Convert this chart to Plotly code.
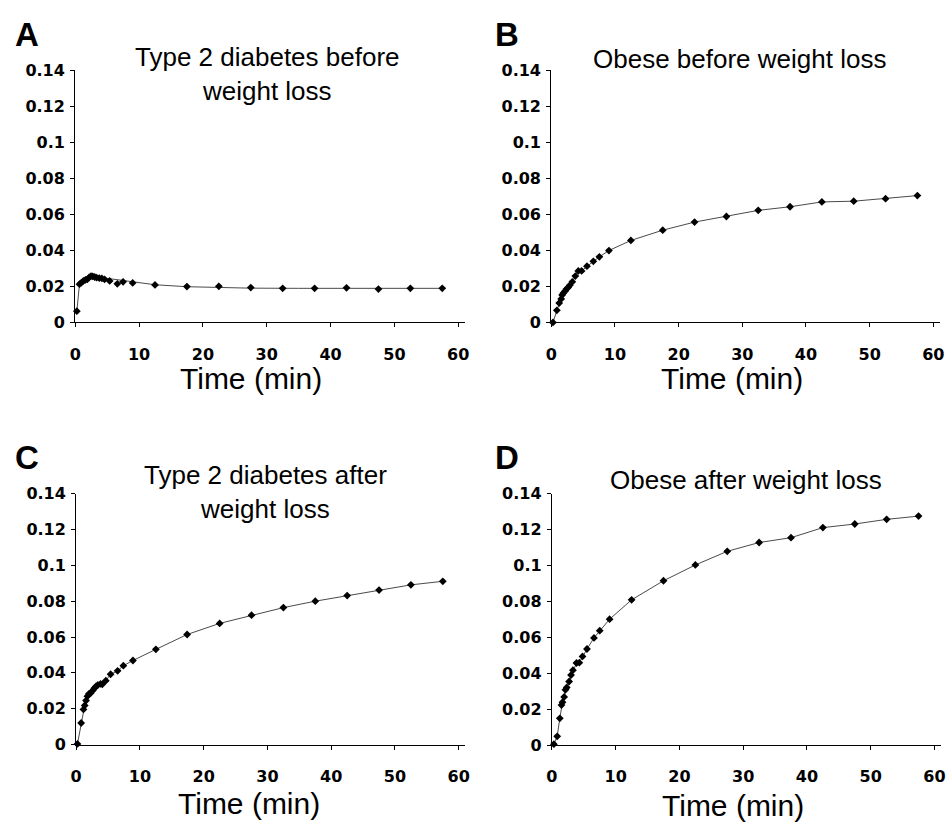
import plotly.graph_objects as go

W, H = 950, 832

# ---------------- data ----------------
A_time = [0.26, 0.67, 0.98, 1.29, 1.6, 1.9, 2.2, 2.48, 2.74, 3.05, 3.36, 3.77, 4.18, 4.6, 5.4,
          6.6, 7.5, 9.0, 12.5, 17.5, 22.5, 27.5, 32.5, 37.5, 42.5, 47.5, 52.5, 57.5]
A_val = [0.0062, 0.0212, 0.0221, 0.0230, 0.0236, 0.0239, 0.0250, 0.0257, 0.0255, 0.0252, 0.0248,
         0.0246, 0.0244, 0.0239, 0.0230, 0.0214, 0.0225, 0.0219, 0.0208, 0.0199, 0.0200, 0.0193,
         0.0189, 0.0189, 0.0192, 0.0185, 0.0189, 0.0189]
A_fit_time = [0.26, 0.67, 1.3, 2.0, 2.5, 3.0, 4.0, 5.0, 6.6, 9.0, 12.5, 17.5, 22.5, 27.5, 35, 45, 57.5]
A_fit_val = [0.0062, 0.0212, 0.0232, 0.0246, 0.0255, 0.0254, 0.0249, 0.0243, 0.0236, 0.0225,
             0.0209, 0.0198, 0.0192, 0.0190, 0.0189, 0.0189, 0.0189]

B_time = [0.26, 0.87, 1.24, 1.55, 1.7, 1.9, 2.17, 2.38, 2.64, 2.9, 3.3, 3.77, 4.24, 4.76, 5.6,
          6.6, 7.55, 9.05, 12.5, 17.5, 22.5, 27.5, 32.5, 37.5, 42.5, 47.5, 52.5, 57.5]
B_val = [0.0, 0.0067, 0.0107, 0.0130, 0.0152, 0.0163, 0.0174, 0.0185, 0.0194, 0.0206, 0.0225,
         0.0257, 0.0286, 0.0286, 0.0312, 0.0339, 0.0364, 0.0399, 0.0455, 0.0512, 0.0557, 0.0588,
         0.0622, 0.0642, 0.0669, 0.0673, 0.0687, 0.0704]

C_time = [0.2, 0.78, 1.14, 1.34, 1.55, 1.76, 2.0, 2.28, 2.6, 2.85, 3.1, 3.4, 3.83, 4.1, 4.65,
          5.4, 6.5, 7.4, 8.9, 12.5, 17.4, 22.5, 27.5, 32.5, 37.5, 42.5, 47.5, 52.5, 57.5]
C_val = [0.0003, 0.0120, 0.0196, 0.0218, 0.0245, 0.0269, 0.0283, 0.0287, 0.0302, 0.0314, 0.0324,
         0.0332, 0.0338, 0.0336, 0.0356, 0.0392, 0.0411, 0.0440, 0.0469, 0.0531, 0.0614, 0.0676,
         0.0722, 0.0764, 0.0800, 0.0831, 0.0862, 0.0891, 0.0911]

D_time = [0.31, 0.83, 1.24, 1.5, 1.66, 1.92, 2.12, 2.33, 2.7, 3.0, 3.3, 3.85, 4.3, 4.8, 5.5,
          6.6, 7.5, 9.05, 12.5, 17.5, 22.5, 27.5, 32.5, 37.5, 42.5, 47.5, 52.5, 57.5]
D_val = [0.0005, 0.0049, 0.0149, 0.0223, 0.0239, 0.0268, 0.0308, 0.0321, 0.0354, 0.0390, 0.0417,
         0.0457, 0.0459, 0.0494, 0.0535, 0.0597, 0.0637, 0.0701, 0.0809, 0.0915, 0.1003, 0.1079,
         0.1128, 0.1155, 0.1211, 0.1231, 0.1257, 0.1275]

panel_letters = ["A", "B", "C", "D"]
panel_titles = ["Type 2 diabetes before<br>weight loss", "Obese before weight loss",
                "Type 2 diabetes after<br>weight loss", "Obese after weight loss"]
x_title = "Time (min)"
y_tickvals = [0, 0.02, 0.04, 0.06, 0.08, 0.10, 0.12, 0.14]
y_ticktext = ["0", "0.02", "0.04", "0.06", "0.08", "0.1", "0.12", "0.14"]
x_tickvals = [0, 10, 20, 30, 40, 50, 60]
x_ticktext = ["0", "10", "20", "30", "40", "50", "60"]

# ---------------- layout geometry (pixels) ----------------
# (left, right, top, bottom) of each plot area
boxes = [(70, 464, 62.7, 320.7), (551.7, 944.6, 62.7, 320.7),
         (71, 464.5, 496, 752.7), (552.3, 945.8, 496, 753.3)]

fig = go.Figure()

series = [(A_time, A_val), (B_time, B_val), (C_time, C_val), (D_time, D_val)]
line_style = dict(color="#4a4a4a", width=1)
marker_style = dict(symbol="diamond", size=6, color="black")

for i, (t, v) in enumerate(series):
    xa = "x" if i == 0 else f"x{i+1}"
    ya = "y" if i == 0 else f"y{i+1}"
    if i == 0:
        fig.add_trace(go.Scatter(x=A_fit_time, y=A_fit_val, mode="lines", line=line_style,
                                 xaxis=xa, yaxis=ya, showlegend=False, cliponaxis=False))
        fig.add_trace(go.Scatter(x=t, y=v, mode="markers", marker=marker_style,
                                 xaxis=xa, yaxis=ya, showlegend=False, cliponaxis=False))
    else:
        fig.add_trace(go.Scatter(x=t, y=v, mode="lines+markers", line=line_style,
                                 marker=marker_style, xaxis=xa, yaxis=ya,
                                 showlegend=False, cliponaxis=False))

tick_font = dict(family="DejaVu Sans", size=16, color="black", weight="bold")
layout = dict(width=W, height=H, autosize=False, margin=dict(l=0, r=0, t=0, b=0),
              paper_bgcolor="white", plot_bgcolor="white", showlegend=False)

for i, (l, r, t, b) in enumerate(boxes):
    xk = "xaxis" if i == 0 else f"xaxis{i+1}"
    yk = "yaxis" if i == 0 else f"yaxis{i+1}"
    xa = "x" if i == 0 else f"x{i+1}"
    ya = "y" if i == 0 else f"y{i+1}"
    layout[xk] = dict(domain=[l / W, r / W], anchor=ya, range=[0, 61],
                      tickvals=x_tickvals, ticktext=x_ticktext, tickfont=tick_font,
                      showline=True, linecolor="black", linewidth=1.2,
                      ticks="outside", ticklen=4, tickcolor="black", tickwidth=1,
                      showgrid=False, zeroline=False, ticklabelstandoff=13)
    layout[yk] = dict(domain=[1 - b / H, 1 - t / H], anchor=xa, range=[0, 0.14],
                      tickvals=y_tickvals, ticktext=y_ticktext, tickfont=tick_font,
                      showline=True, linecolor="black", linewidth=1.2,
                      ticks="outside", ticklen=4, tickcolor="black", tickwidth=1,
                      showgrid=False, zeroline=False, ticklabelstandoff=2)

fig.update_layout(**layout)

# ---------------- annotations ----------------
letter_pos = [(21.5, 26.5), (506.5, 26.5), (21.5, 459), (506.5, 459)]
title_pos = [(265, 67), (742.5, 51.5), (262.5, 494.5), (749, 481.5)]
xtitle_pos = [(247.5, 378), (735, 378), (246, 813), (736, 815)]

ann = []
for i in range(4):
    lx, ly = letter_pos[i]
    ann.append(dict(text=f"<b>{panel_letters[i]}</b>", x=lx / W, y=1 - ly / H, xref="paper",
                    yref="paper", xanchor="center", yanchor="middle", showarrow=False,
                    font=dict(family="Liberation Sans", size=33, color="black")))
    tx, ty = title_pos[i]
    ann.append(dict(text=panel_titles[i], x=tx / W, y=1 - ty / H, xref="paper", yref="paper",
                    xanchor="center", yanchor="middle", showarrow=False,
                    font=dict(family="Liberation Sans", size=26, color="black")))
    ax, ay = xtitle_pos[i]
    ann.append(dict(text=x_title, x=ax / W, y=1 - ay / H, xref="paper", yref="paper",
                    xanchor="center", yanchor="middle", showarrow=False,
                    font=dict(family="Liberation Sans", size=30, color="black")))
fig.update_layout(annotations=ann)

fig.write_html("out.html")
